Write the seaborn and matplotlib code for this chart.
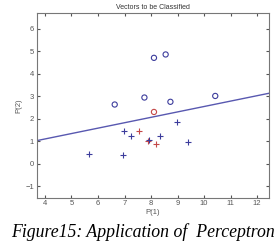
import numpy as np
import pandas as pd
import seaborn as sns
import matplotlib.pyplot as plt

# vectors to classify
circ_x = [6.63, 8.11, 8.55, 7.75, 8.73, 10.42]
circ_y = [2.63, 4.70, 4.85, 2.94, 2.75, 3.01]
circ_red_x = [8.11]
circ_red_y = [2.30]
plus_x = [5.66, 6.93, 6.99, 7.25, 7.91, 8.35, 8.97, 9.40]
plus_y = [0.43, 0.40, 1.45, 1.25, 1.07, 1.22, 1.87, 0.98]
plus_red_x = [7.54, 8.19, 7.90]
plus_red_y = [1.46, 0.88, 1.02]

# decision boundary
line_x = [3.7, 12.45]
line_y = [1.03, 3.13]

sns.set_style("white")
plt.rcParams['font.family'] = ['Liberation Sans', 'DejaVu Sans']

fig = plt.figure(figsize=(2.78, 2.44), dpi=100)
ax = fig.add_axes([0.133, 0.19, 0.835, 0.755])

blue = '#3c3c9c'
red = '#c44848'

sns.lineplot(x=line_x, y=line_y, ax=ax, color='#5858b0', lw=1.0)
sns.scatterplot(x=circ_x, y=circ_y, ax=ax, marker='o', s=14,
                facecolors='none', edgecolor=blue, linewidth=0.8)
sns.scatterplot(x=circ_red_x, y=circ_red_y, ax=ax, marker='o', s=14,
                facecolors='none', edgecolor=red, linewidth=0.8)
sns.scatterplot(x=plus_red_x, y=plus_red_y, ax=ax, marker='+', s=22,
                color=red, linewidth=0.8)
sns.scatterplot(x=plus_x, y=plus_y, ax=ax, marker='+', s=22,
                color=blue, linewidth=0.8)

ax.set_xlim(3.7, 12.45)
ax.set_ylim(-1.5, 6.67)
ax.set_xticks(range(4, 13))
ax.set_yticks(range(-1, 7))
ax.tick_params(direction='in', length=2, labelsize=5.5, colors='#555555',
               top=True, right=True, bottom=True, left=True, pad=2)
for s in ax.spines.values():
    s.set_color('#777777')
    s.set_linewidth(0.8)

ax.set_title("Vectors to be Classified", fontsize=5, color='#333333', pad=3)
ax.set_xlabel("P(1)", fontsize=5.5, color='#555555', labelpad=1)
ax.set_ylabel("P(2)", fontsize=5.5, color='#555555', labelpad=2)

fig.text(0.04, 0.03, "Figure15: Application of  Perceptron",
         family='Liberation Serif', style='italic', fontsize=12.8,
         color='black')

fig.savefig("out.png", dpi=100)
